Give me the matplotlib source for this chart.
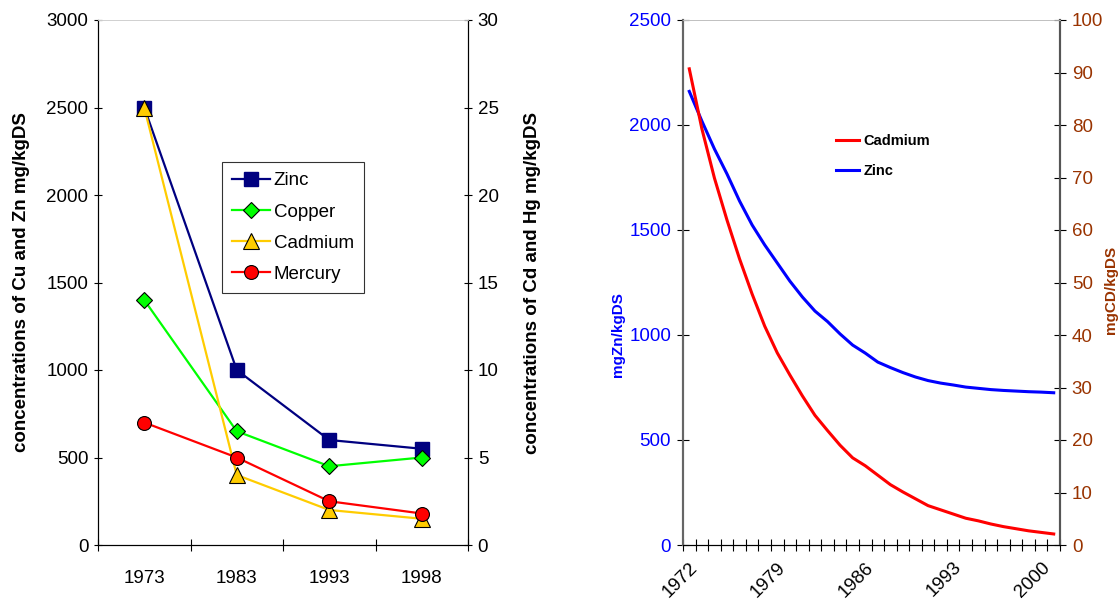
import numpy as np
import matplotlib.pyplot as plt

plt.rcParams['font.family'] = ['Liberation Sans', 'DejaVu Sans']

# left chart data
years = ['1973', '1983', '1993', '1998']
zinc = [2500, 1000, 600, 550]
copper = [1400, 650, 450, 500]
cadmium = [25, 4, 2, 1.5]
mercury = [7, 5, 2.5, 1.8]

# right chart data (1972..2001)
years2 = list(range(1972, 2002))
zinc2 = [2160, 2019, 1886, 1767, 1638, 1524, 1429, 1343, 1257, 1181,
         1114, 1064, 1005, 952, 914, 871, 845, 821, 800, 783,
         771, 762, 752, 746, 740, 736, 733, 730, 728, 725]
cad2 = [90.7, 79.3, 69.9, 61.9, 54.5, 47.8, 41.7, 36.6, 32.4, 28.4,
        24.7, 21.8, 19.0, 16.6, 15.1, 13.3, 11.5, 10.1, 8.8, 7.5,
        6.7, 5.9, 5.1, 4.6, 4.0, 3.5, 3.1, 2.7, 2.4, 2.1]
xlabels2 = ['1972', '1979', '1986', '1993', '2000']

W, H = 1120, 603
fig = plt.figure(figsize=(W / 100, H / 100), dpi=100)

def box(x0, x1, y0, y1):
    return [x0 / W, 1 - y1 / H, (x1 - x0) / W, (y1 - y0) / H]

fs = 13.5

# ---------- left chart ----------
ax = fig.add_axes(box(98, 468, 20, 545))
ax2 = ax.twinx()
x = np.arange(len(years))
ax.plot(x, zinc, color='#000080', lw=1.6, marker='s', ms=10.5, mfc='#000080', mec='#000080', label='Zinc')
ax.plot(x, copper, color='#00FF00', lw=1.6, marker='D', ms=8.5, mfc='#00FF00', mec='black', mew=0.8, label='Copper')
ax2.plot(x, cadmium, color='#FFCC00', lw=1.6, marker='^', ms=11, mfc='#FFCC00', mec='black', mew=0.8, label='Cadmium')
ax2.plot(x, mercury, color='#FF0000', lw=1.6, marker='o', ms=10, mfc='#FF0000', mec='black', mew=0.8, label='Mercury')

ax.set_xlim(-0.5, 3.5)
ax.set_ylim(0, 3000)
ax2.set_ylim(0, 30)
ax.set_yticks(np.arange(0, 3001, 500))
ax2.set_yticks(np.arange(0, 31, 5))
ax.set_xticks(np.arange(-0.5, 3.6, 1))
ax.set_xticklabels([])
ax.set_xticks(x, minor=True)
ax.set_xticklabels(years, minor=True)
ax.tick_params(axis='x', which='major', direction='inout', length=9, width=0.8)
ax.tick_params(axis='x', which='minor', length=0, pad=18, labelsize=fs)
ax.tick_params(axis='y', direction='inout', length=6, width=0.8, labelsize=fs, pad=4)
ax2.tick_params(axis='y', direction='inout', length=6, width=0.8, labelsize=fs, pad=4)
for a in (ax, ax2):
    a.spines['top'].set_color('#d0d0d0')
    a.spines['top'].set_linewidth(0.6)
ax.set_ylabel('concentrations of Cu and Zn mg/kgDS', fontsize=13.5, fontweight='bold', labelpad=12)
ax2.set_ylabel('concentrations of Cd and Hg mg/kgDS', fontsize=13.5, fontweight='bold', labelpad=18)

handles = [ax.lines[0], ax.lines[1], ax2.lines[0], ax2.lines[1]]
leg = fig.legend(handles, [h.get_label() for h in handles], loc='upper left',
                 bbox_to_anchor=(222 / W, 1 - 162 / H), borderaxespad=0, fontsize=fs,
                 frameon=True, fancybox=False, edgecolor='black', handlelength=2.0,
                 handletextpad=0.2, labelspacing=0.75, borderpad=0.55)
leg.get_frame().set_linewidth(0.8)

# ---------- right chart ----------
bx = fig.add_axes(box(683, 1060, 20, 545))
bx2 = bx.twinx()
x2 = np.arange(len(years2))
bx2.plot(x2, cad2, color='#FF0000', lw=2.2, label='Cadmium')
bx.plot(x2, zinc2, color='#0000FF', lw=2.2, label='Zinc')
bx.set_xlim(-0.5, len(years2) - 0.5)
bx.set_ylim(0, 2500)
bx2.set_ylim(0, 100)
bx.set_yticks(np.arange(0, 2501, 500))
bx2.set_yticks(np.arange(0, 101, 10))
bx.set_xticks(np.arange(-0.5, len(years2), 1))
bx.set_xticklabels([])
bx.set_xticks([years2.index(int(s)) for s in xlabels2], minor=True)
bx.set_xticklabels(xlabels2, minor=True, rotation=45, ha='right', va='top', rotation_mode='anchor')
bx.tick_params(axis='x', which='major', direction='inout', length=9, width=0.8)
bx.tick_params(axis='x', which='minor', length=0, pad=10, labelsize=fs)
bx.tick_params(axis='y', direction='inout', length=9, width=0.8, labelsize=fs, labelcolor='#0000FF', pad=4)
bx2.tick_params(axis='y', direction='inout', length=9, width=0.8, labelsize=fs, labelcolor='#993300', pad=4)
for a in (bx, bx2):
    a.spines['top'].set_color('#c0c0c0')
    a.spines['top'].set_linewidth(0.6)
    a.spines['left'].set_color('#666666')
    a.spines['right'].set_color('#555555')
    a.spines['left'].set_linewidth(1.5)
    a.spines['right'].set_linewidth(1.5)
bx.set_ylabel('mgZn/kgDS', fontsize=11, fontweight='bold', color='#0000FF')
bx.yaxis.set_label_coords(-0.154, 0.40)
bx2.set_ylabel('mgCD/kgDS', fontsize=11, fontweight='bold', color='#993300')
bx2.yaxis.set_label_coords(1.118, 0.486)

h2 = [bx2.lines[0], bx.lines[0]]
leg2 = fig.legend(h2, [h.get_label() for h in h2], loc='upper left',
                  bbox_to_anchor=(830 / W, 1 - 128 / H), borderaxespad=0, frameon=False,
                  prop={'size': 10.5, 'weight': 'bold'}, handlelength=1.6,
                  handletextpad=0.3, labelspacing=1.1)

fig.savefig('out.png', dpi=100)
